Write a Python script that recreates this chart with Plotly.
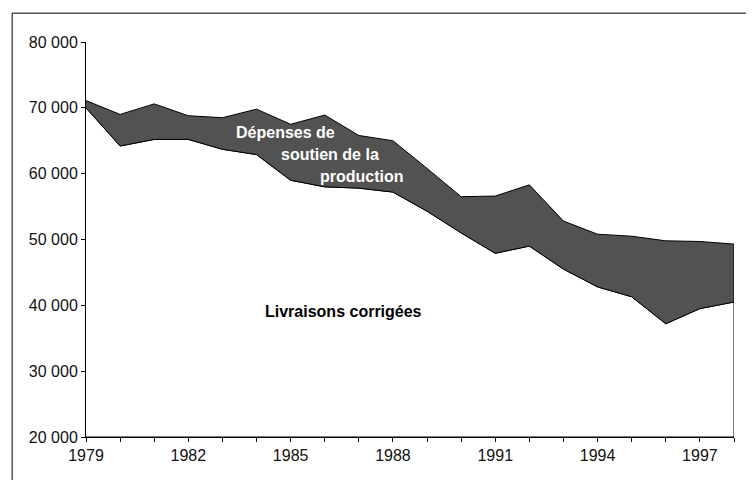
import numpy as np
import plotly.graph_objects as go

# Values (years 1979-1998)
years = list(range(1979, 1999))
livraisons = [70000, 64200, 65200, 65200, 63700, 62900, 59000, 58000, 57800, 57200,
              54300, 51000, 47900, 49000, 45500, 42800, 41300, 37200, 39500, 40500]
soutien = [1100, 4800, 5400, 3600, 4800, 6900, 8500, 10900, 8000, 7800,
           6500, 5500, 8700, 9300, 7300, 8000, 9200, 12600, 10200, 8800]

y_min, y_max = 20000, 80000
x_ticks = list(range(1979, 1999, 3))

total = list(np.array(livraisons) + np.array(soutien))

fig = go.Figure()

# white area under the "livraisons" line, outlined in black
fig.add_trace(go.Scatter(
    x=years + [years[-1], years[0]],
    y=livraisons + [y_min, y_min],
    fill="toself", fillcolor="white",
    mode="lines", line=dict(color="black", width=1),
    hoverinfo="skip", showlegend=False,
))

# dark band: support spending stacked on top
fig.add_trace(go.Scatter(
    x=years + years[::-1],
    y=total + livraisons[::-1],
    fill="toself", fillcolor="#525252",
    mode="lines", line=dict(color="black", width=1),
    hoverinfo="skip", showlegend=False,
))

font = "Liberation Sans, Arial, sans-serif"

labels = [
    ("Dépenses de", 1984.85, 66200, "white"),
    ("soutien de la", 1986.15, 62850, "white"),
    ("production", 1987.1, 59500, "white"),
    ("Livraisons corrigées", 1986.55, 39000, "black"),
]
for txt, x, y, col in labels:
    fig.add_annotation(x=x, y=y, text="<b>%s</b>" % txt, showarrow=False,
                       font=dict(family=font, size=16, color=col))

# outer frame of the scanned figure
fig.add_shape(type="rect", xref="paper", yref="paper",
              x0=-0.114, x1=1.05, y0=-0.15, y1=1.073,
              line=dict(color="black", width=1), layer="below")

# page body has an 8px margin, so the figure is 8px smaller than the window
fig.update_layout(
    width=746, height=472,
    margin=dict(l=78, r=20, t=34, b=43),
    paper_bgcolor="white", plot_bgcolor="white",
    separators=", ",
    font=dict(family=font, size=16, color="#111"),
    xaxis=dict(range=[1979, 1998], tickvals=x_ticks, ticks="outside", ticklen=4,
               tickcolor="black", showline=True, linecolor="black", linewidth=1,
               showgrid=False, zeroline=False,
               minor=dict(dtick=1, tick0=1979, ticks="outside", ticklen=4,
                          tickcolor="black", showgrid=False)),
    yaxis=dict(range=[y_min, y_max], dtick=10000, tickformat=",d", ticks="outside",
               ticklen=4, tickcolor="black", showline=True, linecolor="black",
               linewidth=1, showgrid=False, zeroline=False),
)

fig.write_html("out.html")
